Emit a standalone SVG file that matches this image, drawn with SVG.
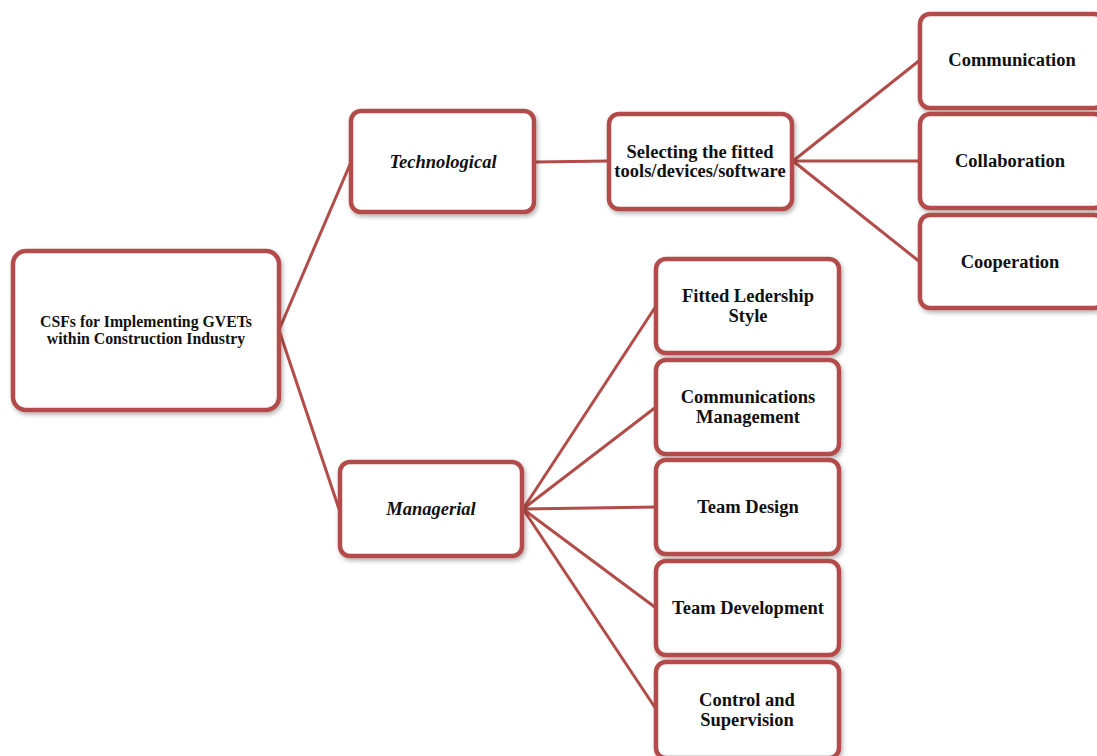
<svg xmlns="http://www.w3.org/2000/svg" width="1097" height="756" viewBox="0 0 1097 756">
<defs>
<filter id="sh" x="-10%" y="-10%" width="125%" height="130%">
<feDropShadow dx="1.5" dy="2.5" stdDeviation="2" flood-color="#000" flood-opacity="0.3"/>
</filter>
<style>
.box{fill:#fff;stroke:#b24c49;stroke-width:4.5;filter:url(#sh)}
.ln{stroke:#b24c49;stroke-width:3;fill:none}
text{font-family:"Liberation Serif","Times New Roman",serif;font-weight:bold;fill:#111;text-anchor:middle}
.t{font-size:18.5px}
.r{font-size:15.8px}
.i{font-style:italic}
</style>
</defs>
<rect width="1097" height="756" fill="#fff"/>
<g id="connectors">
<line class="ln" x1="279" y1="330" x2="351" y2="162"/>
<line class="ln" x1="279" y1="330" x2="339" y2="509"/>
<line class="ln" x1="535" y1="162" x2="609" y2="161"/>
<line class="ln" x1="793" y1="161" x2="920" y2="60"/>
<line class="ln" x1="793" y1="161" x2="920" y2="161"/>
<line class="ln" x1="793" y1="161" x2="920" y2="262"/>
<line class="ln" x1="523" y1="509" x2="656" y2="306"/>
<line class="ln" x1="523" y1="509" x2="656" y2="407"/>
<line class="ln" x1="523" y1="509" x2="656" y2="507"/>
<line class="ln" x1="523" y1="509" x2="656" y2="608"/>
<line class="ln" x1="523" y1="509" x2="656" y2="709"/>
</g>
<g id="root">
<rect class="box" x="13" y="251" width="266" height="159" rx="13"/>
<text class="r" x="146" y="327">CSFs for Implementing GVETs</text>
<text class="r" x="146" y="344">within Construction Industry</text>
</g>
<g id="technological">
<rect class="box" x="351" y="111" width="183" height="101" rx="10"/>
<text class="t i" x="443" y="168">Technological</text>
</g>
<g id="selecting">
<rect class="box" x="609" y="114" width="183" height="95" rx="10"/>
<text class="t" x="700" y="158">Selecting the fitted</text>
<text class="t" x="700" y="177">tools/devices/software</text>
</g>
<g id="communication">
<rect class="box" x="920" y="14" width="184" height="94" rx="10"/>
<text class="t" x="1012" y="66">Communication</text>
</g>
<g id="collaboration">
<rect class="box" x="920" y="114" width="184" height="94" rx="10"/>
<text class="t" x="1010" y="167">Collaboration</text>
</g>
<g id="cooperation">
<rect class="box" x="920" y="215" width="184" height="93" rx="10"/>
<text class="t" x="1010" y="268">Cooperation</text>
</g>
<g id="managerial">
<rect class="box" x="340" y="462" width="182" height="94" rx="10"/>
<text class="t i" x="431" y="515">Managerial</text>
</g>
<g id="leadership">
<rect class="box" x="656" y="259" width="183" height="94" rx="10"/>
<text class="t" x="748" y="302">Fitted Ledership</text>
<text class="t" x="748" y="322">Style</text>
</g>
<g id="commsmgmt">
<rect class="box" x="656" y="360" width="183" height="94" rx="10"/>
<text class="t" x="748" y="403">Communications</text>
<text class="t" x="748" y="423">Management</text>
</g>
<g id="teamdesign">
<rect class="box" x="656" y="460" width="183" height="94" rx="10"/>
<text class="t" x="748" y="513">Team Design</text>
</g>
<g id="teamdev">
<rect class="box" x="656" y="561" width="183" height="94" rx="10"/>
<text class="t" x="748" y="614">Team Development</text>
</g>
<g id="control">
<rect class="box" x="656" y="662" width="183" height="96" rx="10"/>
<text class="t" x="747" y="706">Control and</text>
<text class="t" x="747" y="726">Supervision</text>
</g>
</svg>
